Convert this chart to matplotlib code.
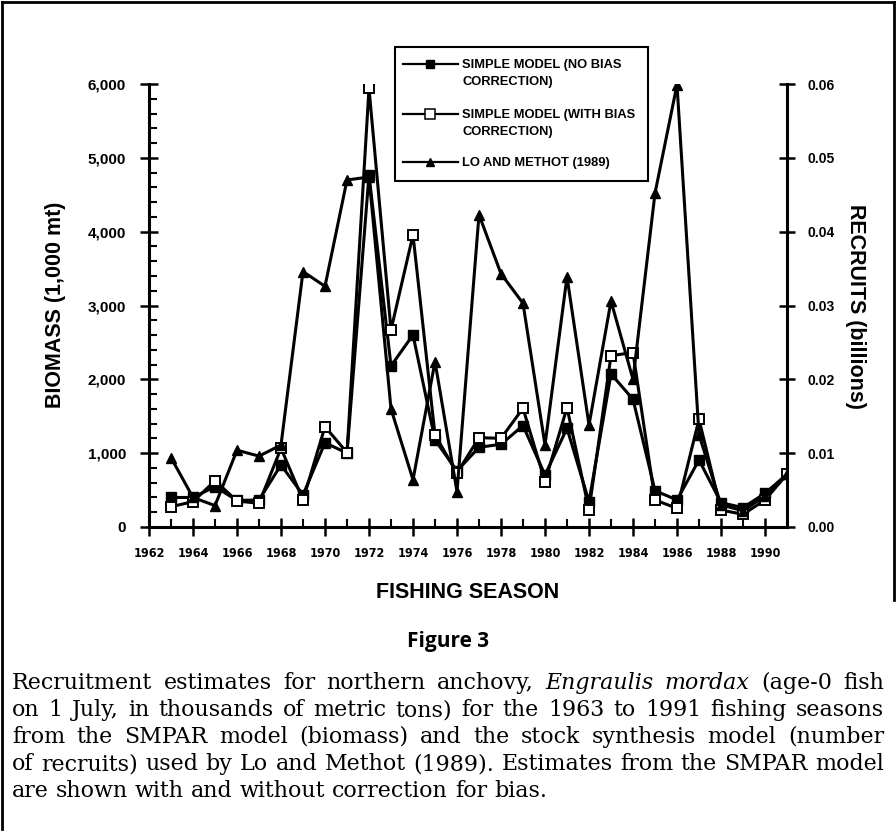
import matplotlib
matplotlib.use('Agg')
import matplotlib.pyplot as plt
from matplotlib.lines import Line2D
from matplotlib.patches import Rectangle
from matplotlib import font_manager

# ---------------- data ----------------
years = list(range(1963, 1992))
no_bias = [400, 400, 546, 360, 366, 840, 434, 1142, 1000, 4770, 2182, 2602, 1179, 760,
           1080, 1120, 1373, 705, 1337, 343, 2073, 1730, 492, 366, 908, 330, 262, 456, 714]
with_bias = [275, 343, 627, 352, 321, 1066, 366, 1359, 1007, 5940, 2669, 3957, 1247, 730,
             1210, 1201, 1608, 614, 1617, 230, 2321, 2362, 366, 253, 1459, 230, 172, 366, 714]
lo_methot = [0.0094, 0.0040, 0.0029, 0.0104, 0.0096, 0.0111, 0.0346, 0.0326, 0.0470, 0.0474,
             0.0160, 0.0064, 0.0224, 0.0048, 0.0423, 0.0343, 0.0303, 0.0111, 0.0339, 0.0138,
             0.0306, 0.0200, 0.0452, 0.0599, 0.0125, 0.0030, 0.0022, 0.0042, 0.0072]
x_major = list(range(1962, 1991, 2))
x_minor = list(range(1963, 1990, 2))
x_labels = [str(y) for y in x_major]
left_ticks = [0, 1000, 2000, 3000, 4000, 5000, 6000]
left_labels = ['0', '1,000', '2,000', '3,000', '4,000', '5,000', '6,000']
left_minor = list(range(0, 6001, 200))
right_ticks = [0.0, 0.01, 0.02, 0.03, 0.04, 0.05, 0.06]
right_labels = ['0.00', '0.01', '0.02', '0.03', '0.04', '0.05', '0.06']
legend_labels = [['SIMPLE MODEL (NO BIAS', 'CORRECTION)'],
                 ['SIMPLE MODEL (WITH BIAS', 'CORRECTION)'],
                 ['LO AND METHOT (1989)']]
caption = [
    [("Recruitment estimates for northern anchovy,", 'normal'), ("Engraulis mordax", 'italic'),
     ("(age-0 fish", 'normal')],
    [("on 1 July, in thousands of metric tons) for the 1963 to 1991 fishing seasons", 'normal')],
    [("from the SMPAR model (biomass) and the stock synthesis model (number", 'normal')],
    [("of recruits) used by Lo and Methot (1989). Estimates from the SMPAR model", 'normal')],
    [("are shown with and without correction for bias.", 'normal')],
]

W, H = 896, 831
names = {f.name for f in font_manager.fontManager.ttflist}
SANS = 'Liberation Sans' if 'Liberation Sans' in names else 'DejaVu Sans'
NARROW = 'Liberation Sans Narrow' if 'Liberation Sans Narrow' in names else 'DejaVu Sans'
FIGFONT = 'Open Sans' if 'Open Sans' in names else 'DejaVu Sans'
SERIF = 'DejaVu Serif'

plt.rcParams['font.family'] = [SANS, 'DejaVu Sans']

fig = plt.figure(figsize=(W / 100, H / 100), dpi=100)
fig.patch.set_facecolor('white')

def fx(px):
    return px / W

def fy(py):
    return 1 - py / H

ax = fig.add_axes([fx(149), fy(527), fx(787) - fx(149), fy(84) - fy(527)])
ax2 = ax.twinx()

LW = 2.2
ax.plot(years, no_bias, '-', color='black', lw=LW, marker='s', ms=6.5,
        mfc='black', mec='black', zorder=3)
ax.plot(years, with_bias, '-', color='black', lw=LW, marker='s', ms=7.5,
        mfc='white', mec='black', mew=1.4, zorder=4)
ax2.plot(years, lo_methot, '-', color='black', lw=LW, marker='^', ms=7,
         mfc='black', mec='black', zorder=3)

ax.set_xlim(1962, 1991)
ax.set_ylim(0, 6000)
ax2.set_ylim(0, 0.06)

for a in (ax, ax2):
    a.spines['top'].set_visible(False)
    for s in ('left', 'right', 'bottom'):
        a.spines[s].set_linewidth(LW)
ax.spines['right'].set_visible(False)
ax2.spines['left'].set_visible(False)
ax2.spines['bottom'].set_visible(False)

ax.set_xticks(x_major)
ax.set_xticklabels(x_labels)
ax.set_xticks(x_minor, minor=True)
ax.tick_params(axis='x', which='major', direction='inout', length=13, width=1.8, pad=8)
ax.tick_params(axis='x', which='minor', direction='in', length=6, width=1.5)
for t in ax.get_xticklabels():
    t.set_family([NARROW, 'DejaVu Sans'])
    t.set_fontsize(9)
    t.set_fontweight('bold')
    if NARROW == 'DejaVu Sans':
        t.set_fontstretch('condensed')

ax.set_yticks(left_ticks)
ax.set_yticklabels(left_labels)
ax.set_yticks(left_minor, minor=True)
ax.tick_params(axis='y', which='major', direction='inout', length=13, width=1.8, pad=10)
ax.tick_params(axis='y', which='minor', direction='in', length=6, width=1.5)
for t in ax.get_yticklabels():
    t.set_fontsize(11)
    t.set_fontweight('bold')

ax2.set_yticks(right_ticks)
ax2.set_yticklabels(right_labels)
ax2.tick_params(axis='y', which='major', direction='inout', length=12, width=1.8, pad=9)
ax2.tick_params(axis='y', which='minor', right=False)
for t in ax2.get_yticklabels():
    t.set_fontsize(10)
    t.set_fontweight('bold')

# axis titles
LAB_FS = 15.5
fig.text(fx(55), fy(305), 'BIOMASS (1,000 mt)', rotation=90, ha='center', va='center',
         fontsize=LAB_FS, fontweight='bold')
fig.text(fx(855), fy(307), 'RECRUITS (billions)', rotation=-90, ha='center', va='center',
         fontsize=LAB_FS, fontweight='bold')
fig.text(fx(468), fy(592), 'FISHING SEASON', ha='center', va='center',
         fontsize=LAB_FS, fontweight='bold')

# legend (drawn as a key box)
fig.patches.append(Rectangle((fx(395), fy(181)), fx(648) - fx(395), fy(47) - fy(181),
                             transform=fig.transFigure, fill=False, lw=1.5, ec='black'))
key_y = [64, 114, 162]
styles = [dict(marker='s', mfc='black', ms=5.5), dict(marker='s', mfc='white', ms=6.5, mew=1.1),
          dict(marker='^', mfc='black', ms=6)]
for ky, st, lab in zip(key_y, styles, legend_labels):
    fig.lines.append(Line2D([fx(403), fx(458)], [fy(ky), fy(ky)], transform=fig.transFigure,
                            color='black', lw=1.6))
    fig.lines.append(Line2D([fx(430)], [fy(ky)], transform=fig.transFigure, color='black',
                            mec='black', ls='none', **st))
    for i, line in enumerate(lab):
        fig.text(fx(462), fy(ky + 1 + 17 * i), line, ha='left', va='center',
                 fontsize=9.3, fontweight='bold')

# figure title
fig.text(fx(448), fy(641), 'Figure 3', ha='center', va='center', fontsize=15,
         fontweight='bold', family=[FIGFONT, 'DejaVu Sans'])

# caption, justified
fig.canvas.draw()
renderer = fig.canvas.get_renderer()
x0, x1 = 12, 884
line_y = [683, 710, 737, 764, 791]
words_lines = []
for segs in caption:
    wl = []
    for text, style in segs:
        for w in text.split(' '):
            wl.append((w, style))
    words_lines.append(wl)

def word_width(w, fs, style):
    t = fig.text(0, 0, w, fontsize=fs, family=SERIF, style=style)
    wd = t.get_window_extent(renderer).width
    t.remove()
    return wd

def space_width(fs):
    return word_width('a a', fs, 'normal') - word_width('aa', fs, 'normal')

def natural_width(wl, fs):
    return sum(word_width(w, fs, s) for w, s in wl) + space_width(fs) * (len(wl) - 1)

# one size for all lines, set by the widest line
base = 14.0
widest = max(natural_width(wl, base) for wl in words_lines)
CAP_FS = base * (x1 - x0) / widest * 0.995

for li, wl in enumerate(words_lines):
    widths = [word_width(w, CAP_FS, s) for w, s in wl]
    if li < 4:
        gap = ((x1 - x0) - sum(widths)) / (len(wl) - 1)
    else:
        gap = space_width(CAP_FS)
    xp = x0
    for (w, style), wd in zip(wl, widths):
        fig.text(fx(xp), fy(line_y[li]), w, fontsize=CAP_FS, family=SERIF, style=style,
                 ha='left', va='center')
        xp += wd + gap

# page frame
for xs, ys in [([2, 894], [2, 2]), ([2, 2], [2, 829]), ([894, 894], [2, 600])]:
    fig.lines.append(Line2D([fx(v) for v in xs], [fy(v) for v in ys],
                            transform=fig.transFigure, color='black', lw=2))

fig.savefig('out.png', dpi=100)
